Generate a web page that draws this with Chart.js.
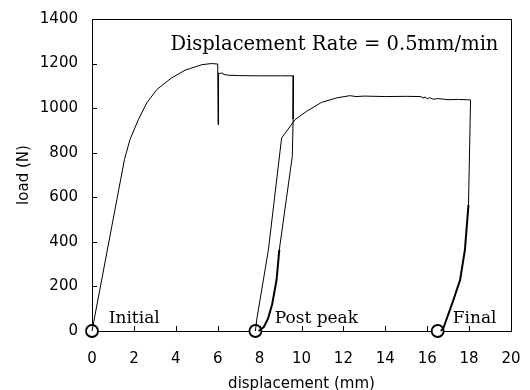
<!DOCTYPE html>
<html>
<head>
<meta charset="utf-8">
<script src="https://cdn.jsdelivr.net/npm/chart.js@4"></script>
<style>
  html, body { margin: 0; padding: 0; background: #fff; }
</style>
</head>
<body>
<canvas id="chart" width="530" height="390"></canvas>
<script>
// first run: loading to peak, load drop, plateau, unloading back to zero
const firstDisp = [0, 1.55, 1.81, 2.21, 2.61, 3.09, 3.8, 4.44, 5.24, 5.7, 6.0, 6.02, 6.04, 6.1, 6.2, 6.3, 6.5, 7.0, 8.0, 9.0, 9.62, 9.6, 9.56, 8.94, 8.81, 8.6, 8.4, 8.2, 7.95];
const firstLoad = [0, 770, 858, 948, 1023, 1083, 1136, 1170, 1195, 1200, 1198, 926, 1158, 1155, 1158, 1151, 1148, 1146, 1145, 1145, 1145, 950, 783, 364, 229, 120, 55, 18, 0];

// second run: reloading from post peak state, plateau, final unloading
const secondDisp = [7.8, 7.86, 8.42, 9.05, 9.69, 10.25, 10.96, 11.68, 12.31, 12.6, 13.0, 14.0, 15.0, 15.7, 15.8, 15.9, 16.0, 16.1, 16.3, 16.5, 17.0, 17.5, 18.07, 17.97, 17.8, 17.57, 17.25, 16.77, 16.65];
const secondLoad = [0, 49, 364, 866, 948, 986, 1026, 1046, 1056, 1052, 1054, 1052, 1053, 1052, 1045, 1050, 1042, 1047, 1040, 1043, 1038, 1039, 1037, 566, 364, 229, 139, 12, 0];

// specimen states marked on the axis
const stateNames = ["Initial", "Post peak", "Final"];
const stateDisp = [0, 7.8, 16.5];
const stateLoad = [0, 0, 0];

const xMax = 20, xStep = 2;
const yMax = 1400, yStep = 200;
const rateText = "Displacement Rate = 0.5mm/min";

function toPoints(xs, ys) {
  return xs.map((x, i) => ({ x: x, y: ys[i] }));
}

// unloading segments near the axis are drawn heavier, like the dense data there
const unloadWidth = (c) =>
  c.p1.parsed.x < c.p0.parsed.x && c.p0.parsed.y < 600 ? 2 : 1;

const frameAndNotes = {
  id: "frameAndNotes",
  beforeDatasetsDraw(chart) {
    const ctx = chart.ctx;
    const a = chart.chartArea;
    const xs = chart.scales.x, ys = chart.scales.y;
    ctx.save();
    ctx.strokeStyle = "#000";
    ctx.lineWidth = 1;
    ctx.strokeRect(Math.round(a.left) + 0.5, Math.round(a.top) + 0.5,
      Math.round(a.right - a.left), Math.round(a.bottom - a.top));
    ctx.beginPath();
    xs.ticks.forEach((t) => {
      const px = Math.round(xs.getPixelForValue(t.value)) + 0.5;
      ctx.moveTo(px, a.bottom);
      ctx.lineTo(px, a.bottom - 5);
    });
    ys.ticks.forEach((t) => {
      const py = Math.round(ys.getPixelForValue(t.value)) + 0.5;
      ctx.moveTo(a.left, py);
      ctx.lineTo(a.left + 5, py);
    });
    ctx.stroke();
    ctx.restore();
  },
  afterDatasetsDraw(chart) {
    const ctx = chart.ctx;
    const xs = chart.scales.x, ys = chart.scales.y;
    ctx.save();
    ctx.fillStyle = "#000";
    ctx.textBaseline = "alphabetic";
    ctx.font = "17px 'DejaVu Serif'";
    ctx.textAlign = "left";
    const labelAt = [0.8, 8.72, 17.22];
    stateNames.forEach((name, i) => {
      ctx.fillText(name, xs.getPixelForValue(labelAt[i]), ys.getPixelForValue(37));
    });
    ctx.font = "19.5px 'DejaVu Serif'";
    ctx.textAlign = "right";
    ctx.fillText(rateText, xs.getPixelForValue(19.4), ys.getPixelForValue(1262));
    ctx.restore();
  }
};

const tickFont = { family: "'DejaVu Sans'", size: 15 };
const plain = (v) => String(v);

new Chart(document.getElementById("chart"), {
  type: "scatter",
  data: {
    datasets: [
      {
        data: toPoints(firstDisp, firstLoad),
        showLine: true,
        borderColor: "#000",
        borderWidth: 1,
        pointRadius: 0,
        segment: { borderWidth: unloadWidth },
        clip: false
      },
      {
        data: toPoints(secondDisp, secondLoad),
        showLine: true,
        borderColor: "#000",
        borderWidth: 1,
        pointRadius: 0,
        segment: { borderWidth: unloadWidth },
        clip: false
      },
      {
        data: toPoints(stateDisp, stateLoad),
        showLine: false,
        pointRadius: 6,
        pointBorderWidth: 1.8,
        pointBackgroundColor: "#fff",
        pointBorderColor: "#000",
        clip: false
      }
    ]
  },
  options: {
    responsive: false,
    animation: false,
    events: [],
    layout: { padding: { top: 19, right: 19, left: 0, bottom: 0 } },
    plugins: { legend: { display: false }, tooltip: { enabled: false } },
    scales: {
      x: {
        type: "linear",
        min: 0,
        max: xMax,
        grid: { display: false, drawTicks: false },
        border: { display: false },
        ticks: { stepSize: xStep, color: "#000", font: tickFont, padding: 19, maxRotation: 0, callback: plain },
        title: {
          display: true,
          text: "displacement (mm)",
          color: "#000",
          font: { family: "'DejaVu Sans'", size: 15, lineHeight: 1 },
          padding: { top: 0, bottom: -2 }
        },
        afterFit(scale) {
          scale.height = 59;
          scale.paddingLeft = 0;
          scale.paddingRight = 0;
        }
      },
      y: {
        type: "linear",
        min: 0,
        max: yMax,
        grid: { display: false, drawTicks: false },
        border: { display: false },
        ticks: { stepSize: yStep, color: "#000", font: tickFont, padding: 14, callback: plain },
        title: {
          display: true,
          text: "load (N)",
          color: "#000",
          font: { family: "'DejaVu Sans'", size: 15, lineHeight: 1 },
          padding: { top: 17, bottom: 0 }
        },
        afterFit(scale) {
          scale.width = 92;
          scale.paddingTop = 0;
          scale.paddingBottom = 0;
        }
      }
    }
  },
  plugins: [frameAndNotes]
});
</script>
</body>
</html>
